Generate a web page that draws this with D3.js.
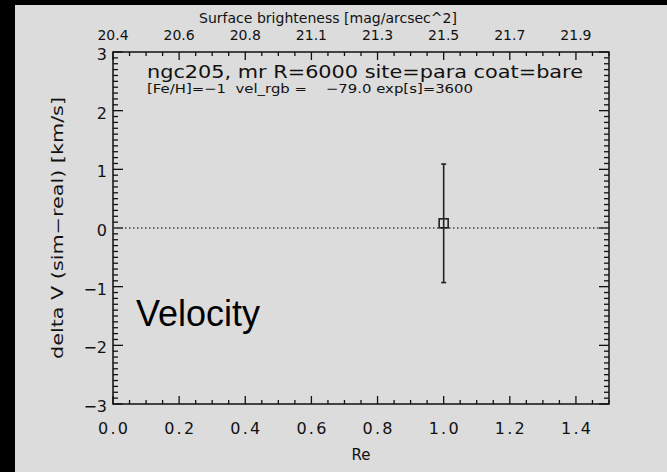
<!DOCTYPE html>
<html>
<head>
<meta charset="utf-8">
<script src="https://cdn.jsdelivr.net/npm/d3@7"></script>
<style>
  html, body { margin: 0; padding: 0; background: #000; }
  svg { display: block; }
</style>
</head>
<body>
<script>
// Velocity residual vs. effective radius
const reTicks = [0.0, 0.2, 0.4, 0.6, 0.8, 1.0, 1.2, 1.4];
const sbTickLabels = ["20.4", "20.6", "20.8", "21.1", "21.3", "21.5", "21.7", "21.9"];
const vTicks = [-3, -2, -1, 0, 1, 2, 3];
const pointRe = [1.0];
const pointDv = [0.08];
const pointErr = [1.01];

const W = 667, H = 472;
const plotL = 113, plotR = 609, plotT = 52, plotB = 404;

const svg = d3.select("body").append("svg").attr("width", W).attr("height", H);

// dark surround with the light panel
svg.append("rect").attr("x", 0).attr("y", 0).attr("width", W).attr("height", H).attr("fill", "#000");
svg.append("rect").attr("x", 15).attr("y", 5).attr("width", W - 15).attr("height", H - 5).attr("fill", "#dcdcdc");

const x = d3.scaleLinear().domain([0, 1.5]).range([plotL, plotR]);
const y = d3.scaleLinear().domain([-3, 3]).range([plotB, plotT]);

const font = "'DejaVu Sans', sans-serif";
const ink = "#111";

// minor and major ticks on all four sides
const xMinor = d3.range(0, 1.5001, 0.05);
const yMinor = d3.range(-3, 3.0001, 0.1);
const g = svg.append("g").attr("stroke", ink).attr("stroke-width", 1.3);

xMinor.forEach(v => {
  const major = Math.abs(v / 0.2 - Math.round(v / 0.2)) < 1e-6;
  const len = major ? 8 : 4;
  g.append("line").attr("x1", x(v)).attr("x2", x(v)).attr("y1", plotB).attr("y2", plotB - len);
  g.append("line").attr("x1", x(v)).attr("x2", x(v)).attr("y1", plotT).attr("y2", plotT + len);
});
yMinor.forEach(v => {
  const major = Math.abs(v - Math.round(v)) < 1e-6;
  const len = major ? 10 : 5;
  g.append("line").attr("x1", plotL).attr("x2", plotL + len).attr("y1", y(v)).attr("y2", y(v));
  g.append("line").attr("x1", plotR).attr("x2", plotR - len).attr("y1", y(v)).attr("y2", y(v));
});

// frame
svg.append("rect").attr("x", plotL).attr("y", plotT).attr("width", plotR - plotL).attr("height", plotB - plotT)
  .attr("fill", "none").attr("stroke", ink).attr("stroke-width", 1.5);

// bottom axis labels
svg.append("g").selectAll("text").data(reTicks).join("text")
  .attr("x", d => x(d)).attr("y", 434)
  .attr("text-anchor", "middle").attr("font-family", font).attr("font-size", 16).attr("fill", ink)
  .attr("textLength", 30).attr("lengthAdjust", "spacing")
  .text(d => d.toFixed(1));
svg.append("text").attr("x", (plotL + plotR) / 2).attr("y", 460)
  .attr("text-anchor", "middle").attr("font-family", font).attr("font-size", 15).attr("fill", ink)
  .text("Re");

// top axis labels (surface brightness at the same positions)
svg.append("g").selectAll("text").data(reTicks).join("text")
  .attr("x", d => x(d)).attr("y", 40)
  .attr("text-anchor", "middle").attr("font-family", font).attr("font-size", 14).attr("fill", ink)
  .text((d, i) => sbTickLabels[i]);
svg.append("text").attr("x", 328).attr("y", 23)
  .attr("text-anchor", "middle").attr("font-family", font).attr("font-size", 14).attr("fill", ink)
  .attr("textLength", 258).attr("lengthAdjust", "spacingAndGlyphs")
  .text("Surface brighteness [mag/arcsec^2]");

// left axis labels
svg.append("g").selectAll("text").data(vTicks).join("text")
  .attr("x", 107).attr("y", d => y(d) + 8)
  .attr("text-anchor", "end").attr("font-family", font).attr("font-size", 16).attr("fill", ink)
  .text(d => d < 0 ? "\u2212" + Math.abs(d) : String(d));
svg.append("text")
  .attr("transform", `translate(63, ${(plotT + plotB) / 2}) rotate(-90)`)
  .attr("text-anchor", "middle").attr("font-family", font).attr("font-size", 15).attr("fill", ink)
  .attr("textLength", 262).attr("lengthAdjust", "spacingAndGlyphs")
  .text("delta V (sim\u2212real) [km/s]");

// zero reference line
svg.append("line").attr("x1", plotL).attr("x2", plotR).attr("y1", y(0)).attr("y2", y(0))
  .attr("stroke", "#444").attr("stroke-width", 1.5).attr("stroke-dasharray", "1.5,2.5");

// run description
svg.append("text").attr("x", 147).attr("y", 78)
  .attr("font-family", font).attr("font-size", 17).attr("fill", ink)
  .attr("textLength", 436).attr("lengthAdjust", "spacingAndGlyphs")
  .text("ngc205, mr R=6000 site=para coat=bare");
svg.append("text").attr("x", 147).attr("y", 93)
  .attr("font-family", font).attr("font-size", 12.5).attr("fill", ink)
  .style("white-space", "pre")
  .attr("textLength", 326).attr("lengthAdjust", "spacingAndGlyphs")
  .text("[Fe/H]=\u22121  vel_rgb =    \u221279.0 exp[s]=3600");

// measurement with error bar
const pts = pointRe.map((r, i) => ({ r, v: pointDv[i], e: pointErr[i] }));
const pg = svg.append("g").attr("stroke", "#222").attr("stroke-width", 1.6).attr("fill", "none");
pts.forEach(p => {
  pg.append("line").attr("x1", x(p.r)).attr("x2", x(p.r)).attr("y1", y(p.v + p.e)).attr("y2", y(p.v - p.e));
  [p.v + p.e, p.v - p.e].forEach(v =>
    pg.append("line").attr("x1", x(p.r) - 2.5).attr("x2", x(p.r) + 2.5).attr("y1", y(v)).attr("y2", y(v)));
  pg.append("rect").attr("x", x(p.r) - 4.5).attr("y", y(p.v) - 4.5).attr("width", 9).attr("height", 9);
});

// panel label
svg.append("text").attr("x", 136).attr("y", 326)
  .attr("font-family", "'Liberation Sans', Arial, sans-serif").attr("font-size", 36).attr("fill", "#000")
  .text("Velocity");
</script>
</body>
</html>
